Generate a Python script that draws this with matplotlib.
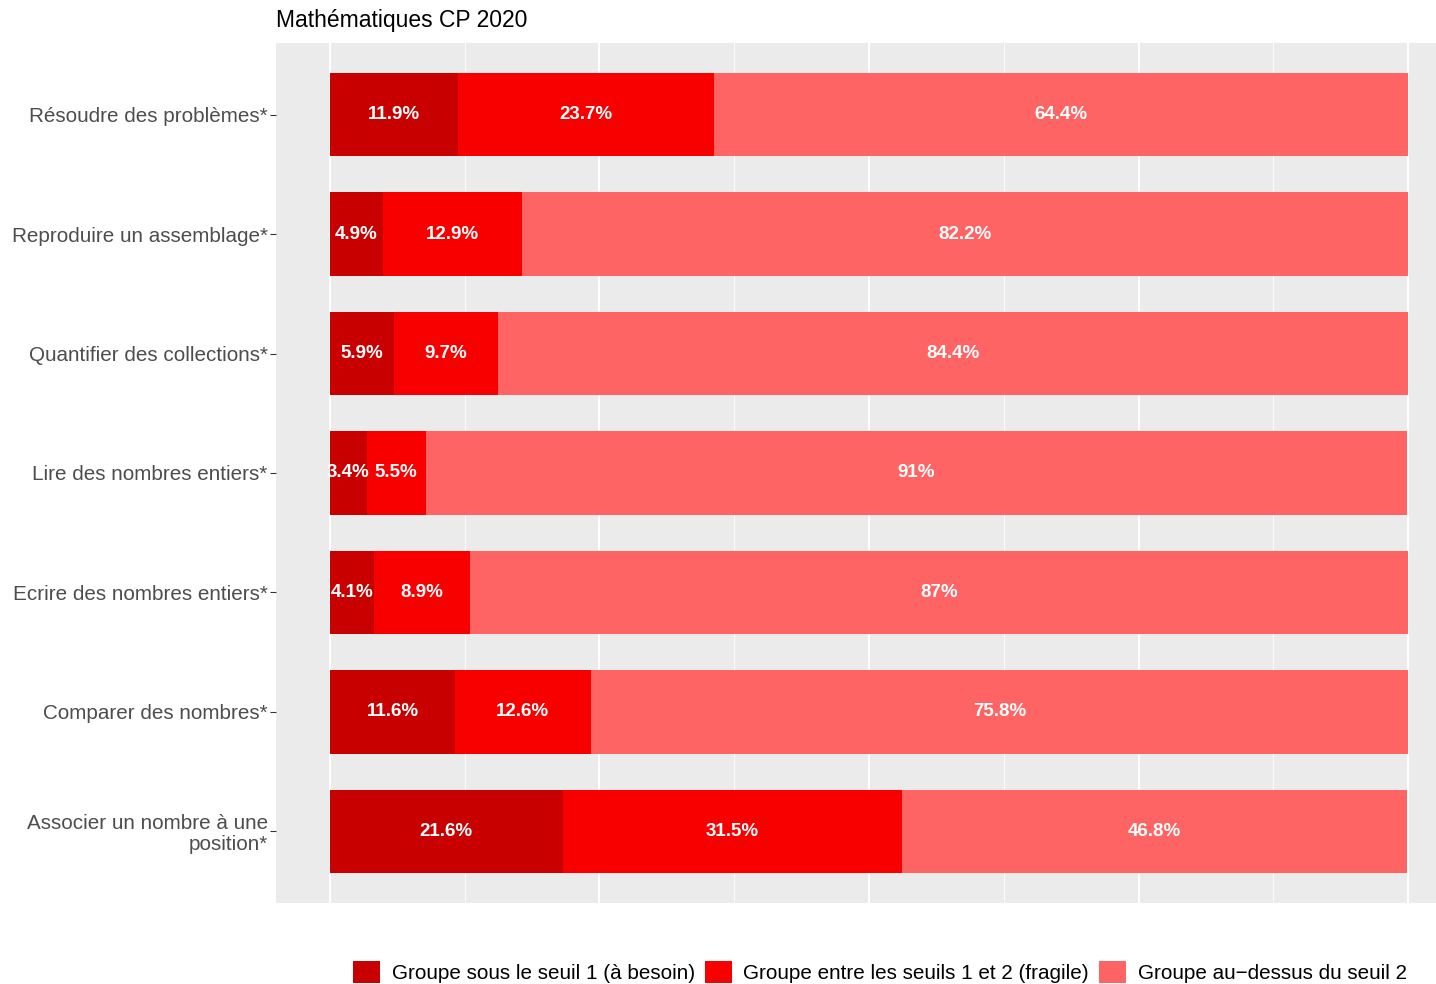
import matplotlib
matplotlib.use("Agg")
import matplotlib.pyplot as plt
from matplotlib.patches import Patch
import numpy as np

plt.rcParams['font.family'] = ['Liberation Sans', 'DejaVu Sans']

# data (percent)
categories = [
    "Résoudre des problèmes*",
    "Reproduire un assemblage*",
    "Quantifier des collections*",
    "Lire des nombres entiers*",
    "Ecrire des nombres entiers*",
    "Comparer des nombres*",
    "Associer un nombre à une\nposition*",
]
besoin = [11.9, 4.9, 5.9, 3.4, 4.1, 11.6, 21.6]
fragile = [23.7, 12.9, 9.7, 5.5, 8.9, 12.6, 31.5]
dessus = [64.4, 82.2, 84.4, 91, 87, 75.8, 46.8]

series_names = [
    "Groupe sous le seuil 1 (à besoin)",
    "Groupe entre les seuils 1 et 2 (fragile)",
    "Groupe au\u2212dessus du seuil 2",
]
colors = ["#C80000", "#F80000", "#FF6464"]

fig = plt.figure(figsize=(14.36, 9.84), dpi=100)
# panel extends past the right edge, like the cropped original
ax = fig.add_axes([276 / 1436, 1 - 903 / 984, 1186 / 1436, 860 / 984])
ax.set_facecolor("#EBEBEB")

y = np.arange(1, len(categories) + 1)
left = np.zeros(len(categories))
for vals, col in zip([besoin, fragile, dessus], colors):
    vals = np.array(vals, dtype=float)
    ax.barh(y, vals, left=left, height=0.7, color=col, zorder=3)
    for yi, l, v in zip(y, left, vals):
        ax.text(l + v / 2, yi, "%g%%" % v, ha="center", va="center",
                color="white", fontsize=13.5, fontweight="bold", zorder=4)
    left = left + vals

ax.set_xlim(-5, 105)
ax.set_ylim(7.6, 0.4)
ax.set_xticks([0, 25, 50, 75, 100])
ax.set_xticks([12.5, 37.5, 62.5, 87.5], minor=True)
ax.grid(which="major", axis="x", color="white", linewidth=1.4, zorder=0)
ax.grid(which="minor", axis="x", color="white", linewidth=0.6, zorder=0)
ax.tick_params(axis="x", which="both", length=0, labelbottom=False)
ax.set_yticks(y)
ax.set_yticklabels(categories, fontsize=14.9, color="#4D4D4D", ha="right",
                   linespacing=1.1)
ax.tick_params(axis="y", length=4.5, color="#333333", pad=1.5)
for s in ax.spines.values():
    s.set_visible(False)

fig.text(276 / 1436, 1 - 20 / 984, "Mathématiques CP 2020", fontsize=16.5,
         color="black", ha="left", va="center")

handles = [Patch(facecolor=c, edgecolor="none") for c in colors]
fig.legend(handles, series_names, loc="center", ncol=3,
           bbox_to_anchor=(0.6128, 1 - 972 / 984), frameon=False,
           fontsize=14.9, borderpad=0, handlelength=1.3, handleheight=1.3,
           handletextpad=0.55, columnspacing=0.5)

fig.savefig("out.png", dpi=100)
